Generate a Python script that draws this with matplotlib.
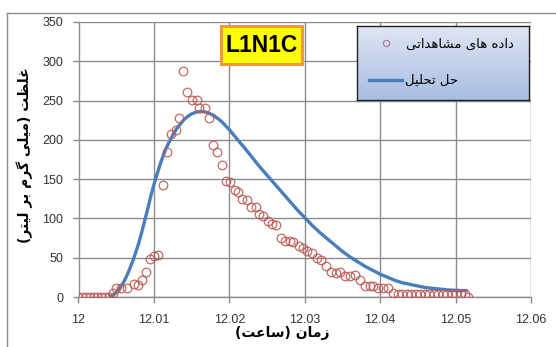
import numpy as np
import matplotlib
matplotlib.use("Agg")
import matplotlib.pyplot as plt
from matplotlib.patches import Rectangle
from matplotlib.lines import Line2D

# observed concentration (mg/L) vs time (h)
obs_t = [12.0000, 12.0005, 12.0010, 12.0015, 12.0020, 12.0025, 12.0030, 12.0035, 12.0040,
         12.0046, 12.0050, 12.0057, 12.0064, 12.0073, 12.0079, 12.0084, 12.0089, 12.0095,
         12.0100, 12.0106, 12.0112, 12.0117, 12.0123, 12.0129, 12.0133, 12.0139, 12.0144,
         12.0150, 12.0157, 12.0160, 12.0168, 12.0173, 12.0179, 12.0184, 12.0190, 12.0195,
         12.0201, 12.0207, 12.0212, 12.0217, 12.0223, 12.0229, 12.0235, 12.0240, 12.0245,
         12.0251, 12.0257, 12.0262, 12.0268, 12.0274, 12.0280, 12.0285, 12.0292, 12.0298,
         12.0303, 12.0309, 12.0316, 12.0322, 12.0328, 12.0335, 12.0341, 12.0347, 12.0353,
         12.0360, 12.0367, 12.0373, 12.0380, 12.0386, 12.0391, 12.0397, 12.0404, 12.0410,
         12.0417, 12.0423, 12.0429, 12.0435, 12.0441, 12.0447, 12.0453, 12.0459, 12.0465,
         12.0471, 12.0477, 12.0483, 12.0489, 12.0495, 12.0501, 12.0507, 12.0512, 12.0516]
obs_c = [0, 0, 0, 0, 0, 0, 0, 0, 0,
         5, 11, 11, 11, 16, 15, 22, 32, 48,
         52, 54, 142, 185, 207, 212, 228, 288, 261,
         251, 251, 241, 241, 228, 194, 184, 168, 148,
         147, 136, 134, 125, 124, 115, 114, 106, 103,
         97, 93, 92, 75, 71, 71, 70, 65, 63,
         59, 56, 50, 47, 39, 32, 31, 32, 27,
         27, 28, 22, 14, 14, 14, 11, 11, 11,
         5, 4, 4, 4, 4, 4, 4, 4, 4,
         4, 4, 4, 4, 4, 4, 4, 4, 0]

# analytical solution
ana_t = [12.0040, 12.0044, 12.0048, 12.0052, 12.0056, 12.0060, 12.0064, 12.0068, 12.0072,
         12.0076, 12.0080, 12.0084, 12.0088, 12.0092, 12.0096, 12.0100, 12.0104, 12.0108,
         12.0112, 12.0116, 12.0120, 12.0125, 12.0130, 12.0135, 12.0140, 12.0145, 12.0150,
         12.0155, 12.0160, 12.0165, 12.0170, 12.0175, 12.0180, 12.0185, 12.0190, 12.0195,
         12.0200, 12.0206, 12.0212, 12.0220, 12.0230, 12.0240, 12.0250, 12.0260, 12.0270,
         12.0280, 12.0290, 12.0300, 12.0310, 12.0320, 12.0330, 12.0340, 12.0350, 12.0360,
         12.0370, 12.0380, 12.0390, 12.0400, 12.0410, 12.0420, 12.0430, 12.0440, 12.0450,
         12.0460, 12.0470, 12.0480, 12.0490, 12.0500, 12.0516]
ana_c = [0, 1.5, 4, 8, 13, 19, 27, 36, 46,
         57, 69, 83, 98, 113, 129, 143, 156, 168,
         179, 189, 197, 206, 214, 220, 226, 230, 233,
         235, 236, 236, 235, 233, 230.5, 227, 223, 218,
         213, 206, 199, 190, 178, 166, 155, 144, 133,
         122, 111, 101, 91, 82, 74, 66, 58, 51,
         45, 39, 34, 29, 25, 21, 18, 16, 14,
         12, 11, 10, 9, 8.5, 8]

x_ticks = [12, 12.01, 12.02, 12.03, 12.04, 12.05, 12.06]
x_tick_labels = ["12", "12.01", "12.02", "12.03", "12.04", "12.05", "12.06"]
y_ticks = [0, 50, 100, 150, 200, 250, 300, 350]

x_label = "زمان (ساعت)"
y_label = "غلظت (میلی گرم بر لیتر)"
obs_label = "داده های مشاهداتی"
ana_label = "حل تحلیل"
tag = "L1N1C"

# contextual glyph forms: isolated, final, initial, medial
FORMS = {
    "ا": ("\uFE8D", "\uFE8E", None, None),
    "ب": ("\uFE8F", "\uFE90", "\uFE91", "\uFE92"),
    "ت": ("\uFE95", "\uFE96", "\uFE97", "\uFE98"),
    "ح": ("\uFEA1", "\uFEA2", "\uFEA3", "\uFEA4"),
    "د": ("\uFEA9", "\uFEAA", None, None),
    "ر": ("\uFEAD", "\uFEAE", None, None),
    "ز": ("\uFEAF", "\uFEB0", None, None),
    "س": ("\uFEB1", "\uFEB2", "\uFEB3", "\uFEB4"),
    "ش": ("\uFEB5", "\uFEB6", "\uFEB7", "\uFEB8"),
    "ظ": ("\uFEC5", "\uFEC6", "\uFEC7", "\uFEC8"),
    "ع": ("\uFEC9", "\uFECA", "\uFECB", "\uFECC"),
    "غ": ("\uFECD", "\uFECE", "\uFECF", "\uFED0"),
    "ل": ("\uFEDD", "\uFEDE", "\uFEDF", "\uFEE0"),
    "م": ("\uFEE1", "\uFEE2", "\uFEE3", "\uFEE4"),
    "ن": ("\uFEE5", "\uFEE6", "\uFEE7", "\uFEE8"),
    "ه": ("\uFEE9", "\uFEEA", "\uFEEB", "\uFEEC"),
    "ی": ("\uFBFC", "\uFBFD", "\uFBFE", "\uFBFF"),
    "گ": ("\uFB92", "\uFB93", "\uFB94", "\uFB95"),
}


def rtl(text):
    out = []
    for i, ch in enumerate(text):
        if ch not in FORMS:
            out.append(ch)
            continue
        prev = text[i - 1] if i > 0 else None
        nxt = text[i + 1] if i + 1 < len(text) else None
        j_prev = prev in FORMS and FORMS[prev][2] is not None
        j_next = FORMS[ch][2] is not None and nxt in FORMS
        if j_prev and j_next:
            out.append(FORMS[ch][3])
        elif j_prev:
            out.append(FORMS[ch][1])
        elif j_next:
            out.append(FORMS[ch][2])
        else:
            out.append(FORMS[ch][0])
    return "".join(out)[::-1].translate(str.maketrans("()", ")("))


W, H = 556, 347
fig = plt.figure(figsize=(W / 100, H / 100), dpi=100)
fig.patch.set_facecolor("white")


def fx(px):
    return px / W


def fy(py):
    return 1 - py / H


grid_col = "#8c8c8c"
ax = fig.add_axes([fx(78.5), fy(297), fx(531) - fx(78.5), fy(22) - fy(297)])
ax.set_xlim(12, 12.06)
ax.set_ylim(0, 350)
ax.set_xticks(x_ticks)
ax.set_xticklabels(x_tick_labels)
ax.set_yticks(y_ticks)
ax.grid(True, color=grid_col, linewidth=1.0)
ax.set_axisbelow(True)
for side in ["top", "right"]:
    ax.spines[side].set_visible(False)
for side in ["left", "bottom"]:
    ax.spines[side].set_color(grid_col)
    ax.spines[side].set_linewidth(1.0)
ax.tick_params(axis="both", colors=grid_col, length=4, width=1, labelcolor="#333333",
               labelsize=9)
ax.tick_params(axis="x", pad=8)
ax.tick_params(axis="y", pad=7)
for lab in ax.get_xticklabels() + ax.get_yticklabels():
    lab.set_fontfamily("Liberation Sans")

ax.plot(ana_t, ana_c, color="#4a7ebb", linewidth=2.4, solid_capstyle="butt",
        solid_joinstyle="round", zorder=2)
ax.plot(obs_t, obs_c, linestyle="none", marker="o", markersize=6.2, markerfacecolor="none",
        markeredgecolor="#bb5a55", markeredgewidth=0.9, alpha=0.9, zorder=3)

# frame around the chart area
fig.add_artist(Line2D([fx(7), fx(7)], [fy(13), 0], color=grid_col, linewidth=1,
                      transform=fig.transFigure))
fig.add_artist(Line2D([fx(7), 1], [fy(13), fy(13)], color=grid_col, linewidth=1,
                      transform=fig.transFigure))

# axis titles
fig.text(fx(282), fy(333), rtl(x_label), ha="center", va="center", fontsize=10,
         fontweight="bold", family="DejaVu Sans")
fig.text(fx(25), fy(155), rtl(y_label), ha="center", va="center", fontsize=10,
         fontweight="bold", family="DejaVu Sans", rotation=90)

# tag box
fig.add_artist(Rectangle((fx(221), fy(64)), fx(302) - fx(221), fy(26) - fy(64),
                         facecolor="#ffff00", edgecolor="#f29a3a", linewidth=2.2,
                         transform=fig.transFigure, zorder=5))
fig.text(fx(261.5), fy(45.5), tag, ha="center", va="center", fontsize=16.5,
         fontweight="bold", family="Liberation Sans", zorder=6)

# legend panel with vertical gradient
lg = fig.add_axes([fx(357), fy(100), fx(529) - fx(357), fy(26) - fy(100)], zorder=5)
grad = np.linspace(0, 1, 64)[:, None]
lg.imshow(grad, aspect="auto", cmap=matplotlib.colors.LinearSegmentedColormap.from_list(
    "lg", ["#dfe6f4", "#a9bde2"]), extent=[0, 1, 0, 1], origin="upper")
lg.set_xlim(0, 1)
lg.set_ylim(0, 1)
lg.set_xticks([])
lg.set_yticks([])
for s in lg.spines.values():
    s.set_color("#222222")
    s.set_linewidth(1.0)
lg.plot([(386 - 357) / 172], [1 - (43 - 26) / 74], marker="o", markersize=4.5,
        markerfacecolor="none", markeredgecolor="#b07a9a", markeredgewidth=0.9)
lg.plot([(369 - 357) / 172, (402 - 357) / 172], [1 - (80 - 26) / 74] * 2,
        color="#4a7ebb", linewidth=2.4)
lg.text((514 - 357) / 172, 1 - (44 - 26) / 74, rtl(obs_label), ha="right", va="center",
        fontsize=9.5, family="DejaVu Sans")
lg.text((405 - 357) / 172, 1 - (80 - 26) / 74, rtl(ana_label), ha="left", va="center",
        fontsize=9.5, family="DejaVu Sans")

fig.savefig("out.png", dpi=100)
